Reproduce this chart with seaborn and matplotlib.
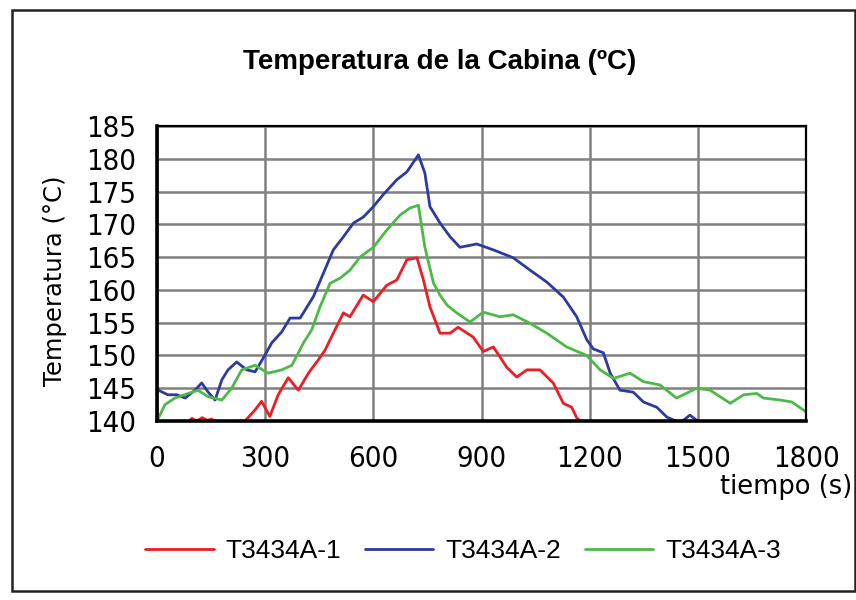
import matplotlib
matplotlib.use("Agg")
import matplotlib.pyplot as plt
import matplotlib.font_manager as fm
from matplotlib.patches import Rectangle
import seaborn as sns
import pandas as pd

# ---- data ----
t_red = [0, 60, 97, 110, 125, 140, 152, 180, 210, 244, 272, 290, 313, 336, 364, 392, 420, 447, 466,
         489, 517, 535, 572, 600, 637, 665, 693, 721, 739, 757, 785, 813, 835, 877, 905, 933, 970,
         998, 1026, 1062, 1099, 1127, 1150, 1164, 1179, 1220]
v_red = [136.0, 138.5, 140.4, 140.0, 140.5, 140.1, 140.3, 138.5, 137.5, 140.0, 141.7, 143.0, 140.7,
         144.0, 146.6, 144.7, 147.3, 149.3, 150.8, 153.4, 156.5, 155.9, 159.2, 158.2, 160.7, 161.5,
         164.6, 164.9, 161.5, 157.4, 153.4, 153.4, 154.3, 152.8, 150.6, 151.3, 148.2, 146.7, 147.8,
         147.8, 145.8, 142.7, 142.1, 140.5, 139.7, 135.0]

t_blue = [0, 4, 30, 55, 78, 105, 124, 142, 161, 180, 197, 221, 249, 272, 300, 318, 346, 369, 397,
          434, 462, 489, 517, 545, 572, 600, 627, 665, 693, 725, 743, 757, 785, 813, 840, 887, 933,
          988, 1035, 1081, 1127, 1164, 1192, 1210, 1238, 1257, 1284, 1321, 1349, 1386, 1414, 1451,
          1478, 1506, 1540]
v_blue = [145.2, 144.7, 144.0, 144.0, 143.5, 144.7, 145.8, 144.4, 143.2, 146.3, 147.8, 149.0, 147.8,
          147.5, 150.1, 151.9, 153.6, 155.7, 155.7, 159.0, 162.6, 166.1, 168.1, 170.2, 171.1, 172.7,
          174.5, 176.8, 178.0, 180.6, 177.8, 172.7, 170.2, 168.1, 166.5, 167.0, 166.1, 164.9, 163.0,
          161.2, 158.9, 155.9, 152.4, 151.0, 150.4, 147.3, 144.7, 144.4, 142.9, 142.1, 140.6, 139.7,
          140.9, 139.7, 138.5]

t_green = [0, 22, 50, 86, 114, 142, 180, 207, 235, 272, 308, 346, 374, 392, 406, 429, 452, 480, 508,
           535, 563, 600, 637, 674, 702, 725, 743, 767, 785, 804, 831, 868, 905, 951, 988, 1035, 1081,
           1136, 1192, 1229, 1266, 1312, 1349, 1395, 1441, 1497, 1534, 1590, 1627, 1664, 1682, 1728,
           1761, 1800]
v_green = [140.0, 142.5, 143.5, 144.2, 144.7, 143.7, 143.2, 145.0, 147.8, 148.5, 147.3, 147.8, 148.5,
           150.4, 151.9, 153.9, 157.4, 161.0, 161.8, 163.0, 165.0, 166.5, 169.1, 171.4, 172.5, 172.9,
           166.5, 161.0, 159.2, 157.7, 156.5, 155.1, 156.6, 155.9, 156.2, 154.9, 153.4, 151.3, 150.0,
           147.8, 146.5, 147.3, 146.0, 145.5, 143.5, 145.0, 144.7, 142.7, 144.0, 144.2, 143.5, 143.2,
           142.9, 141.4]

series_names = ["T3434A-1", "T3434A-2", "T3434A-3"]
series_colors = ["#ee1c25", "#2e3b9e", "#4dba48"]
x_ticks = [0, 300, 600, 900, 1200, 1500, 1800]
y_ticks = [140, 145, 150, 155, 160, 165, 170, 175, 180, 185]

df = pd.concat([
    pd.DataFrame({"t": t_red, "T": v_red, "serie": series_names[0]}),
    pd.DataFrame({"t": t_blue, "T": v_blue, "serie": series_names[1]}),
    pd.DataFrame({"t": t_green, "T": v_green, "serie": series_names[2]}),
], ignore_index=True)

sns.set_theme(style="white")
names = {f.name for f in fm.fontManager.ttflist}
plt.rcParams["font.family"] = ["DejaVu Sans"]
plt.rcParams["text.color"] = "black"
legend_family = "Liberation Sans" if "Liberation Sans" in names else "DejaVu Sans"
title_family = "Liberation Sans Narrow" if "Liberation Sans Narrow" in names else legend_family

W, H = 856, 600
fig = plt.figure(figsize=(W / 100, H / 100), dpi=100)
ax = fig.add_axes([157 / W, 1 - 421 / H, (806 - 157) / W, (421 - 126) / H])

sns.lineplot(data=df, x="t", y="T", hue="serie", palette=dict(zip(series_names, series_colors)),
             linewidth=2.0, ax=ax, legend=True, sort=False, estimator=None)

ax.set_xlim(0, 1800)
ax.set_ylim(140, 185)
ax.set_xticks(x_ticks)
ax.set_yticks(y_ticks)
ax.set_xlabel("")
ax.set_ylabel("")
ax.grid(True, color="#808080", linewidth=1.8)
ax.set_axisbelow(True)
for s in ["left", "bottom"]:
    ax.spines[s].set_linewidth(2.6)
    ax.spines[s].set_color("black")
for s in ["top", "right"]:
    ax.spines[s].set_linewidth(1.6)
    ax.spines[s].set_color("black")
ax.tick_params(axis="both", which="major", direction="out", length=7, width=1.6, color="black",
               labelsize=21, labelcolor="black")
ax.tick_params(axis="y", pad=8)
ax.tick_params(axis="x", pad=10)
for lab in ax.get_xticklabels() + ax.get_yticklabels():
    lab.set_fontstretch("condensed")

# legend
handles, labels = ax.get_legend_handles_labels()
ax.legend_.remove()
fig.legend(handles, labels, loc="center", bbox_to_anchor=(463 / W, 1 - 551 / H), ncol=3,
           frameon=False, handlelength=2.6, handletextpad=0.45, columnspacing=0.9,
           prop={"family": legend_family, "size": 19})

fig.text(440 / W, 1 - 62 / H, "Temperatura de la Cabina (ºC)", ha="center", va="center",
         fontsize=20, fontweight="bold", family=title_family, color="black")
fig.text(55 / W, 1 - 281 / H, "Temperatura (°C)", ha="center", va="center", rotation=90,
         fontsize=17.5, color="black")
fig.text(852 / W, 1 - 487 / H, "tiempo (s)", ha="right", va="center", fontsize=18.5,
         color="black")

fig.patches.append(Rectangle((12 / W, 1 - 591 / H), (855 - 12) / W, (591 - 10) / H,
                             transform=fig.transFigure, fill=False, edgecolor="#222222",
                             linewidth=1.8))

fig.savefig("out.png", dpi=100)
